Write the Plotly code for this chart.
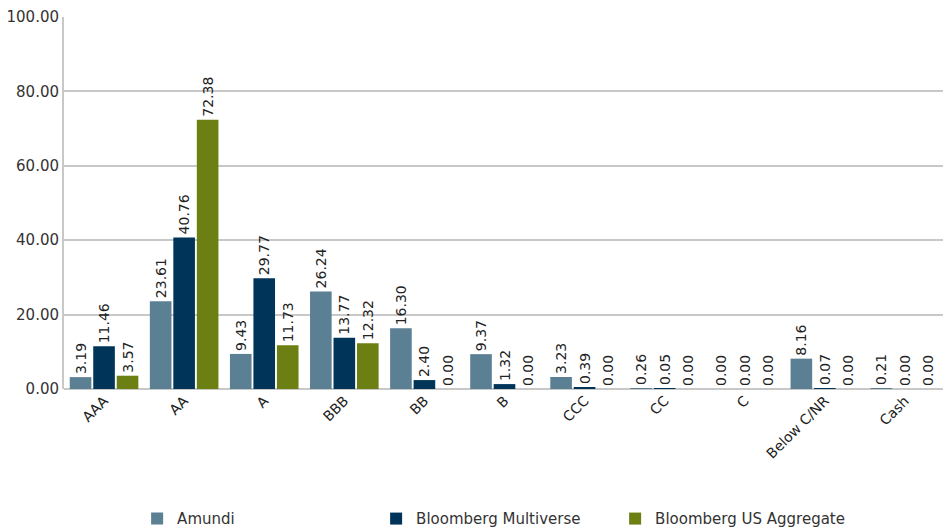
import plotly.graph_objects as go

categories = ["AAA", "AA", "A", "BBB", "BB", "B", "CCC", "CC", "C", "Below C/NR", "Cash"]
amundi = [3.19, 23.61, 9.43, 26.24, 16.30, 9.37, 3.23, 0.26, 0.00, 8.16, 0.21]
multiverse = [11.46, 40.76, 29.77, 13.77, 2.40, 1.32, 0.39, 0.05, 0.00, 0.07, 0.00]
us_agg = [3.57, 72.38, 11.73, 12.32, 0.00, 0.00, 0.00, 0.00, 0.00, 0.00, 0.00]

series = [
    ("Amundi", amundi, "#5b7f93"),
    ("Bloomberg Multiverse", multiverse, "#003459"),
    ("Bloomberg US Aggregate", us_agg, "#6b7f12"),
]

font_family = "'DejaVu Sans', sans-serif"

fig = go.Figure()
for name, vals, color in series:
    fig.add_trace(go.Bar(
        x=categories, y=vals, name=name,
        marker=dict(color=color, line=dict(width=0)),
        text=[f"{v:.2f}" for v in vals],
        textposition="outside", textangle=-90,
        textfont=dict(size=14, color="#222222", family=font_family),
        cliponaxis=False,
    ))

fig.update_layout(
    width=943, height=523,
    margin=dict(l=56, r=6, t=9, b=142, autoexpand=False),
    paper_bgcolor="white", plot_bgcolor="white",
    barmode="group", bargap=0.12, bargroupgap=0.08,
    uniformtext=dict(minsize=14, mode="show"),
    font=dict(family=font_family, size=14, color="#333333"),
    showlegend=True,
    legend=dict(orientation="h", x=0.083, xanchor="left",
                yref="paper", y=-0.349, yanchor="middle",
                entrywidth=194, entrywidthmode="pixels",
                font=dict(size=15, color="#333333")),
    xaxis=dict(tickangle=-45, showgrid=False, showline=False, ticks="",
               automargin=False,
               tickfont=dict(size=14, color="#222222")),
    yaxis=dict(range=[0, 100.01], dtick=20, tickformat=".2f",
               showgrid=True, gridcolor="#c8c8c8", gridwidth=2,
               showline=True, linecolor="#c8c8c8", linewidth=2,
               zeroline=True, zerolinecolor="#c8c8c8", zerolinewidth=2,
               automargin=False, ticklabeloverflow="allow",
               ticks="", tickfont=dict(size=15, color="#333333")),
)

fig.write_html("out.html")
